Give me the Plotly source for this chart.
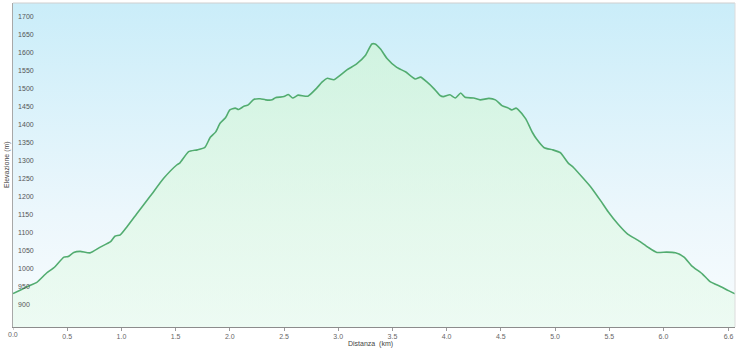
import plotly.graph_objects as go

# ---- data ----
distance_km = [0.00, 0.07, 0.16, 0.22, 0.31, 0.375, 0.47, 0.51, 0.56, 0.62, 0.71, 0.805,
               0.90, 0.94, 0.99, 1.05, 1.14, 1.27, 1.39, 1.51, 1.54, 1.62, 1.70, 1.77,
               1.82, 1.87, 1.91, 1.96, 2.00, 2.05, 2.08, 2.13, 2.17, 2.22, 2.28, 2.33,
               2.39, 2.42, 2.50, 2.54, 2.58, 2.63, 2.72, 2.80, 2.85, 2.90, 2.96, 3.08,
               3.17, 3.25, 3.31, 3.34, 3.39, 3.45, 3.54, 3.62, 3.71, 3.76, 3.82, 3.88,
               3.94, 3.97, 4.03, 4.08, 4.13, 4.17, 4.25, 4.31, 4.39, 4.45, 4.51, 4.57,
               4.60, 4.64, 4.66, 4.73, 4.79, 4.83, 4.90, 4.98, 5.05, 5.12, 5.17, 5.26,
               5.34, 5.42, 5.49, 5.58, 5.67, 5.77, 5.86, 5.94, 6.03, 6.11, 6.19, 6.26,
               6.36, 6.43, 6.53, 6.60, 6.66]
elevation_m = [943, 953, 966, 974, 1000, 1014, 1044, 1046, 1057, 1060, 1056, 1072,
               1087, 1102, 1106, 1128, 1164, 1215, 1263, 1300, 1306, 1337, 1342, 1349,
               1377, 1392, 1416, 1431, 1453, 1458, 1454, 1463, 1467, 1482, 1484, 1481,
               1481, 1487, 1490, 1496, 1486, 1494, 1491, 1513, 1530, 1541, 1537, 1564,
               1581, 1604, 1636, 1636, 1622, 1596, 1571, 1559, 1539, 1544, 1530, 1513,
               1493, 1490, 1495, 1486, 1500, 1488, 1486, 1481, 1485, 1481, 1465, 1458,
               1453, 1458, 1454, 1428, 1391, 1372, 1348, 1342, 1334, 1306, 1293, 1263,
               1235, 1201, 1170, 1136, 1108, 1090, 1071, 1057, 1058, 1056, 1044, 1020,
               997, 976, 962, 951, 942]

x_tick_vals = [0.0, 0.5, 1.0, 1.5, 2.0, 2.5, 3.0, 3.5, 4.0, 4.5, 5.0, 5.5, 6.0, 6.6]
x_tick_text = ["0.0", "0.5", "1.0", "1.5", "2.0", "2.5", "3.0", "3.5", "4.0", "4.5",
               "5.0", "5.5", "6.0", "6.6"]
y_tick_vals = [900, 950, 1000, 1050, 1100, 1150, 1200, 1250, 1300, 1350, 1400, 1450,
               1500, 1550, 1600, 1650, 1700]

X_RANGE = [0, 6.66]
Y_RANGE = [850, 1750]

W, H = 736, 351
M = dict(l=13, r=1, t=3, b=24)
PLOT_W = W - M["l"] - M["r"]
PLOT_H = H - M["t"] - M["b"]

fig = go.Figure()

# background gradient panel
fig.add_trace(go.Scatter(
    x=[X_RANGE[0] - 1, X_RANGE[1] + 1, X_RANGE[1] + 1, X_RANGE[0] - 1],
    y=[Y_RANGE[0] - 200, Y_RANGE[0] - 200, Y_RANGE[1] + 200, Y_RANGE[1] + 200],
    mode="lines", fill="toself", line=dict(width=0),
    fillgradient=dict(type="vertical", start=Y_RANGE[0], stop=Y_RANGE[1],
                      colorscale=[[0, "rgb(248,252,254)"], [0.35, "rgb(236,247,252)"],
                                  [1, "rgb(202,237,249)"]]),
    hoverinfo="skip", showlegend=False,
))

# elevation profile
fig.add_trace(go.Scatter(
    x=distance_km, y=elevation_m, mode="lines",
    line=dict(color="rgb(82,172,112)", width=1.6, shape="spline", smoothing=0.5),
    fill="tozeroy",
    fillgradient=dict(type="vertical", start=Y_RANGE[0], stop=Y_RANGE[1],
                      colorscale=[[0, "rgba(228,250,234,0.55)"],
                                  [1, "rgba(205,246,200,0.55)"]]),
    showlegend=False,
    hovertemplate="%{x:.2f} km<br>%{y} m<extra></extra>",
))

fig.update_layout(
    width=W, height=H, margin=M,
    paper_bgcolor="white", plot_bgcolor="white",
    font=dict(family="Liberation Sans, Arial, sans-serif", size=7, color="#555555"),
    xaxis=dict(range=X_RANGE, tickvals=x_tick_vals, ticktext=x_tick_text,
               showgrid=False, zeroline=False, showline=True, linecolor="#8c8c8c",
               linewidth=1, ticks="outside", ticklen=3, tickcolor="#9a9a9a",
               tickfont=dict(size=7, color="#666666")),
    yaxis=dict(range=Y_RANGE, tickvals=y_tick_vals, showgrid=True,
               gridcolor="rgba(110,135,150,0.28)", gridwidth=1, zeroline=False,
               showline=True, linecolor="#a8a8a8", linewidth=1, ticks="",
               ticklabelposition="inside top", ticklabelstandoff=3,
               tickfont=dict(size=7, color="#555555")),
    shapes=[
        dict(type="line", xref="paper", yref="paper", x0=0, x1=1, y0=1, y1=1,
             line=dict(color="#cfcfcf", width=1)),
        dict(type="line", xref="paper", yref="paper", x0=1, x1=1, y0=0, y1=1,
             line=dict(color="#dcdcdc", width=1)),
        dict(type="line", xref="x", yref="paper", x0=x_tick_vals[0], x1=x_tick_vals[0],
             y0=0, y1=-3 / PLOT_H, line=dict(color="#9a9a9a", width=1)),
    ],
    annotations=[
        dict(text=x_tick_text[0], xref="x", yref="paper", x=x_tick_vals[0],
             y=-(334 - (H - M["b"])) / PLOT_H, xanchor="center", yanchor="middle",
             showarrow=False, font=dict(size=7, color="#666666")),
        dict(text="Distanza\u00a0 (km)", xref="paper", yref="paper",
             x=(370 - M["l"]) / PLOT_W,
             y=-(344 - (H - M["b"])) / PLOT_H,
             xanchor="center", yanchor="middle", showarrow=False,
             font=dict(size=7, color="#444444")),
        dict(text="Elevazione (m)", xref="paper", yref="paper",
             x=-(M["l"] - 7) / PLOT_W, y=0.5, textangle=-90,
             xanchor="center", yanchor="middle", showarrow=False,
             font=dict(size=7, color="#444444")),
    ],
)

fig.write_html("out.html")
